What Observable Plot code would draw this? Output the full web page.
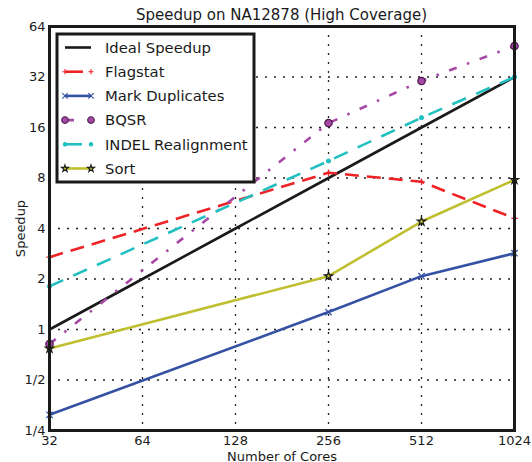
<!DOCTYPE html>
<html><head><meta charset="utf-8">
<script src="https://cdn.jsdelivr.net/npm/d3@7"></script>
<script src="https://cdn.jsdelivr.net/npm/@observablehq/plot@0.6"></script>
<style>
body{margin:0;background:#fff;font-family:"DejaVu Sans",sans-serif;}
#title{height:20px;line-height:30px;overflow:visible;text-align:center;font-size:15px;color:#1a1a1a;padding-left:49px;padding-right:18px;box-sizing:border-box;width:532px;white-space:nowrap;}
</style></head><body>
<div id="title">Speedup on NA12878 (High Coverage)</div>
<div id="chart"></div>
<script>
// ---- data ----
const cores = [32, 64, 128, 256, 512, 1024];
const measuredCores = [32, 256, 512, 1024];
const ideal = [1, 2, 4, 8, 16, 32];
const flagstat = [2.7, 8.6, 7.6, 4.6];
const markDuplicates = [0.31, 1.27, 2.08, 2.85];
const bqsr = [0.82, 17, 30.3, 49];
const indelRealignment = [1.81, 10.1, 18.3, 32];
const sort = [0.77, 2.08, 4.4, 7.8];
const yTicks = [0.25, 0.5, 1, 2, 4, 8, 16, 32, 64];
const yTickLabels = ["1/4", "1/2", "1", "2", "4", "8", "16", "32", "64"];
const seriesNames = ["Ideal Speedup", "Flagstat", "Mark Duplicates", "BQSR", "INDEL Realignment", "Sort"];

// ---- styles ----
const styles = [
  {xs: cores, ys: ideal, color: "#1a1a1a", dash: null, ldash: null, symbol: null},
  {xs: measuredCores, ys: flagstat, color: "#ee2326", dash: "14,8", ldash: "18,30", symbol: "plus", fill: "none", mstroke: "#ee2326", r: 2.2, lr: 1.8},
  {xs: measuredCores, ys: markDuplicates, color: "#3451a3", dash: null, ldash: null, symbol: "times", fill: "none", mstroke: "#3451a3", r: 3.0, lr: 2.6},
  {xs: measuredCores, ys: bqsr, color: "#a548a5", dash: "8,11,2.5,11", ldash: "0,3,6,30", symbol: "circle", fill: "#a548a5", mstroke: "#4a1a4a", r: 3.7, lr: 3.3},
  {xs: measuredCores, ys: indelRealignment, color: "#22c0c0", dash: "15,11", ldash: "17,30", symbol: "circle", fill: "#22c0c0", mstroke: "#22c0c0", r: 2.0, lr: 1.7},
  {xs: measuredCores, ys: sort, color: "#bfbf30", dash: null, ldash: null, symbol: "star", fill: "#bfbf30", mstroke: "#1a1a1a", r: 2.6, lr: 2.2}
];

const marks = [
  Plot.gridX(cores.slice(1), {stroke: "#222", strokeOpacity: 1, strokeWidth: 1.3, strokeDasharray: "2,7"}),
  Plot.gridY(yTicks.slice(1), {stroke: "#222", strokeOpacity: 1, strokeWidth: 1.3, strokeDasharray: "2,7"})
];
styles.forEach((s, k) => {
  const rows = s.xs.map((x, i) => ({series: seriesNames[k], cores: x, speedup: s.ys[i]}));
  marks.push(Plot.line(rows, {x: "cores", y: "speedup", stroke: s.color, strokeWidth: 2.6, strokeDasharray: s.dash, strokeLinecap: "butt"}));
  if (s.symbol) marks.push(Plot.dot(rows, {x: "cores", y: "speedup", symbol: () => s.symbol, r: s.r, fill: s.fill, stroke: s.mstroke, strokeWidth: 1.2}));
});
marks.push(Plot.frame({stroke: "#1a1a1a", strokeWidth: 3}));
marks.push(Plot.axisX({ticks: cores, tickSize: 0, tickPadding: 5, tickFormat: d => String(d), fontSize: 13, label: "Number of Cores", labelAnchor: "center", labelArrow: "none", labelOffset: 30}));
marks.push(Plot.axisY({ticks: yTicks, tickSize: 0, tickPadding: 4, tickFormat: d => yTickLabels[yTicks.indexOf(d)], fontSize: 13, label: "Speedup", labelAnchor: "center", labelArrow: "none", labelOffset: 34}));

const plot = Plot.plot({
  width: 532, height: 442,
  marginTop: 6, marginLeft: 49, marginRight: 18, marginBottom: 32,
  style: {fontFamily: "DejaVu Sans", fontSize: "13px", color: "#1a1a1a", background: "#fff"},
  x: {type: "log", base: 2, domain: [32, 1024]},
  y: {type: "log", base: 2, domain: [0.25, 64]},
  marks
});
document.getElementById("chart").appendChild(plot);

// ---- legend (inside plot, top-left) ----
const svg = d3.select(plot);
const lg = svg.append("g").attr("transform", "translate(57,14)");
lg.append("rect").attr("x", 0).attr("y", 0).attr("width", 197).attr("height", 148)
  .attr("fill", "#fff").attr("stroke", "#1a1a1a").attr("stroke-width", 3);
const symMap = {plus: d3.symbolPlus, times: d3.symbolTimes, circle: d3.symbolCircle, star: d3.symbolStar};
styles.forEach((s, k) => {
  const yy = 13.5 + k * 24.2;
  lg.append("line").attr("x1", 8).attr("x2", 34).attr("y1", yy).attr("y2", yy)
    .attr("stroke", s.color).attr("stroke-width", 2.6).attr("stroke-dasharray", s.ldash);
  if (s.symbol) {
    const path = d3.symbol(symMap[s.symbol], Math.PI * s.lr * s.lr)();
    [8, 34].forEach(px => {
      lg.append("path").attr("d", path).attr("transform", `translate(${px},${yy})`)
        .attr("fill", s.fill).attr("stroke", s.mstroke).attr("stroke-width", 1.1);
    });
  }
  lg.append("text").attr("x", 48).attr("y", yy).attr("dy", "0.36em").attr("text-anchor", "start")
    .attr("font-size", 14.8).attr("fill", "#1a1a1a").text(seriesNames[k]);
});
</script>
</body></html>
